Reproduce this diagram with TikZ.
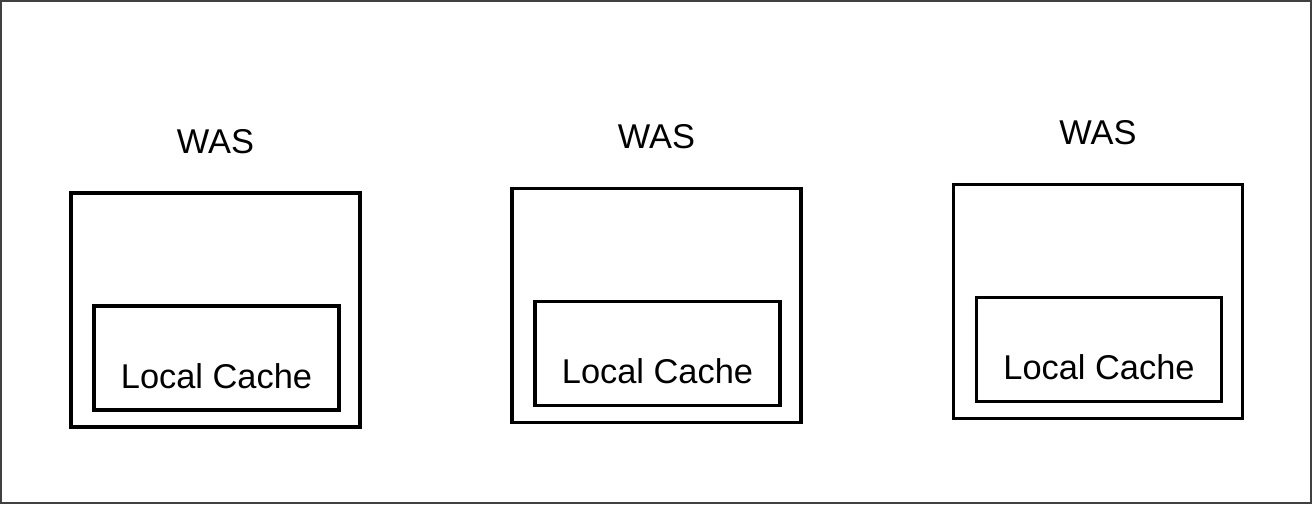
\documentclass[tikz,border=0pt]{standalone}
\usepackage{fontspec}
\setmainfont{Liberation Sans}
\usetikzlibrary{positioning}

\begin{document}
\begin{tikzpicture}[
  x=0.5pt, y=-0.5pt,
  wasbox/.style={draw, line width=1.65pt, minimum width=144.5pt, minimum height=117pt, inner sep=0pt},
  cachebox/.style={draw, line width=1.65pt, minimum width=122.5pt, minimum height=52pt, inner sep=0pt},
  lbl/.style={font=\fontsize{17.2}{20}\selectfont, inner sep=0pt},
  frame/.style={draw=black!75, line width=0.6pt},
]
  \useasboundingbox (0,0) rectangle (1312,504);
  \draw[frame] (1,1) rectangle (1311,503);

  % three servers, each with its cache
  \foreach \i/\x/\y in {1/215.5/310, 2/656.5/305.5, 3/1098/301.5} {
    \node[wasbox] (was\i) at (\x,\y) {};
    \node[lbl, anchor=base] (name\i) at (\x,\y-157) {WAS};
    \node[cachebox, label={[lbl, yshift=-9pt]center:Local Cache}] (cache\i) at (\x+1,\y+48) {};
  }
\end{tikzpicture}
\end{document}
